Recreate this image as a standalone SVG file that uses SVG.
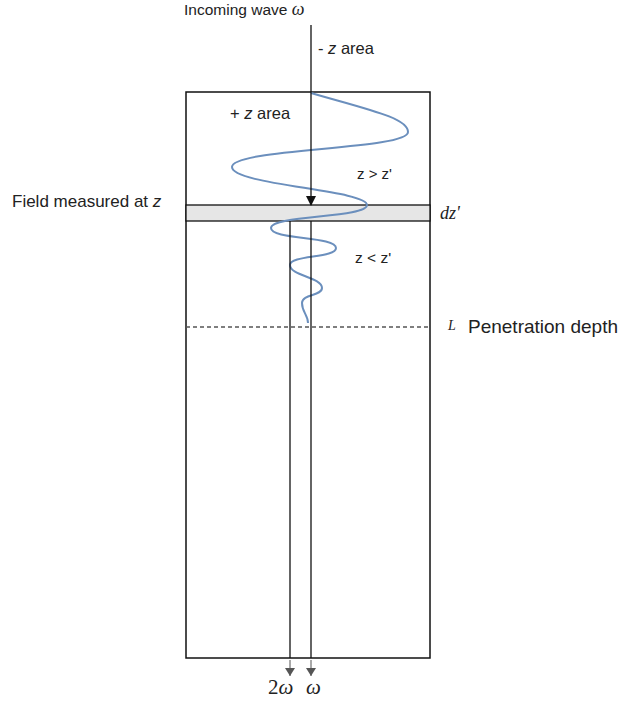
<svg xmlns="http://www.w3.org/2000/svg" width="624" height="702" viewBox="0 0 624 702">
<defs>
<style>
.t{font-family:"Liberation Sans",Arial,sans-serif;fill:#222;}
.ln{stroke:#111;stroke-width:1.3;fill:none;}
.m{font-family:"Liberation Serif","DejaVu Serif",serif;font-style:italic;fill:#222;}
.up{font-family:"Liberation Serif","DejaVu Serif",serif;fill:#222;}
</style>
<marker id="ah" markerWidth="10" markerHeight="10" refX="9" refY="5" orient="auto" markerUnits="userSpaceOnUse">
<path d="M0,0 L10,5 L0,10 z" fill="#111"/>
</marker>
<marker id="ahg" markerWidth="8" markerHeight="10" refX="8" refY="5" orient="auto" markerUnits="userSpaceOnUse">
<path d="M0,0 L8,5 L0,10 z" fill="#555"/>
</marker>
</defs>
<rect width="624" height="702" fill="#fff"/>
<g id="medium">
<rect x="186" y="92" width="244" height="566" fill="#fff" stroke="#111" stroke-width="1.5"/>
</g>
<g id="slab">
<rect x="186" y="205" width="244" height="16" fill="#e6e6e6" stroke="#111" stroke-width="1.3"/>
</g>
<g id="penetration">
<line x1="186" y1="327" x2="430" y2="327" stroke="#555" stroke-width="1.3" stroke-dasharray="4,3"/>
</g>
<g id="wave">
<path d="M311,93 C370,110 408,118 408,132 C408,150 232,148 232,167 C232,185 367,190 367,205 C367,218 271,215 271,228 C271,240 336,236 336,248 C336,258 290,255 290,265 C290,276 322,277 322,288 C322,296 302,294 302,303 C302,312 308,315 308,323" fill="none" stroke="#6b8fbd" stroke-width="2"/>
</g>
<g id="connectors">
<line class="ln" x1="311" y1="25" x2="311" y2="205" marker-end="url(#ah)"/>
<line class="ln" x1="311" y1="221" x2="311" y2="658"/>
<line class="ln" x1="290" y1="221" x2="290" y2="658"/>
<line x1="311" y1="660" x2="311" y2="676" stroke="#555" stroke-width="1" marker-end="url(#ahg)"/>
<line x1="290" y1="660" x2="290" y2="676" stroke="#555" stroke-width="1" marker-end="url(#ahg)"/>
</g>
<g id="labels">
<text class="t" x="184" y="15" font-size="15.5">Incoming wave <tspan class="m" font-size="18">ω</tspan></text>
<text class="t" x="318" y="54" font-size="16.5">- <tspan font-style="italic">z</tspan> area</text>
<text class="t" x="230" y="119" font-size="16.5">+ <tspan font-style="italic">z</tspan> area</text>
<text class="t" x="357" y="179" font-size="15">z &gt; z'</text>
<text class="t" x="12" y="207" font-size="17">Field measured at <tspan font-style="italic">z</tspan></text>
<text class="m" x="440" y="219" font-size="18">dz'</text>
<text class="t" x="355" y="263" font-size="15.5">z &lt; z'</text>
<text class="m" x="448" y="330" font-size="14">L</text>
<text class="t" x="468" y="333" font-size="19">Penetration depth</text>
<text class="up" x="268" y="694" font-size="21">2<tspan font-style="italic">ω</tspan></text>
<text class="m" x="306" y="694" font-size="21">ω</text>
</g>
</svg>
